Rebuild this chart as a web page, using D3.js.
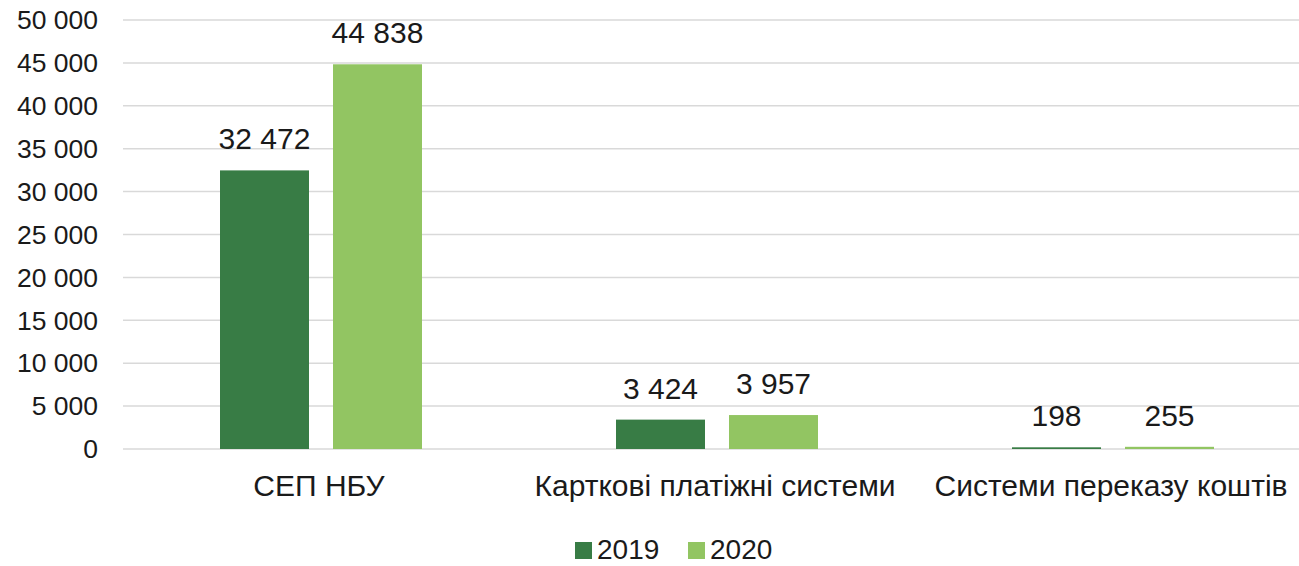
<!DOCTYPE html>
<html>
<head>
<meta charset="utf-8">
<script src="https://cdn.jsdelivr.net/npm/d3@7"></script>
<style>
  body { margin: 0; background: #fff; }
  text { font-family: "Liberation Sans", Arial, sans-serif; fill: #1a1a1a; }
</style>
</head>
<body>
<div id="chart"></div>
<script>
const categories = ["СЕП НБУ", "Карткові платіжні системи", "Системи переказу коштів"];
const years = ["2019", "2020"];
const values2019 = [32472, 3424, 198];
const values2020 = [44838, 3957, 255];
const yTicks = [0, 5000, 10000, 15000, 20000, 25000, 30000, 35000, 40000, 45000, 50000];

const width = 1299, height = 566;
const colors = { "2019": "#387c45", "2020": "#92c562" };
const fmt = v => d3.format(",")(v).replace(/,/g, " ");

const svg = d3.select("#chart")
    .append("svg")
    .attr("width", width)
    .attr("height", height);

const y = d3.scaleLinear()
    .domain([0, 50000])
    .range([449, 20]);

const x0 = d3.scaleBand()
    .domain(categories)
    .range([123, 1311]);

const x1 = d3.scaleBand()
    .domain(years)
    .range([-101, 101])
    .paddingInner(0.2124);

// gridlines
svg.append("g")
    .selectAll("line")
    .data(yTicks)
    .enter().append("line")
    .attr("x1", 123)
    .attr("x2", width)
    .attr("y1", d => y(d))
    .attr("y2", d => y(d))
    .attr("stroke", "#d9d9d9")
    .attr("stroke-width", 1.5);

// y axis labels
svg.append("g")
    .selectAll("text")
    .data(yTicks)
    .enter().append("text")
    .attr("x", 98)
    .attr("y", d => y(d))
    .attr("dy", "0.35em")
    .attr("text-anchor", "end")
    .style("font-size", "26.5px")
    .text(d => fmt(d));

const rows = [];
categories.forEach((c, i) => {
    rows.push({ cat: c, year: "2019", value: values2019[i] });
    rows.push({ cat: c, year: "2020", value: values2020[i] });
});

const cx = d => x0(d.cat) + x0.bandwidth() / 2;

svg.append("g")
    .selectAll("rect")
    .data(rows)
    .enter().append("rect")
    .attr("x", d => cx(d) + x1(d.year))
    .attr("width", x1.bandwidth())
    .attr("y", d => y(d.value))
    .attr("height", d => y(0) - y(d.value))
    .attr("fill", d => colors[d.year]);

// value labels
svg.append("g")
    .selectAll("text")
    .data(rows)
    .enter().append("text")
    .attr("x", d => cx(d) + x1(d.year) + x1.bandwidth() / 2)
    .attr("y", d => y(d.value) - 21)
    .attr("text-anchor", "middle")
    .style("font-size", "30px")
    .text(d => fmt(d.value));

// category labels
svg.append("g")
    .selectAll("text")
    .data(categories)
    .enter().append("text")
    .attr("x", d => x0(d) + x0.bandwidth() / 2 - 2)
    .attr("y", 496)
    .attr("text-anchor", "middle")
    .style("font-size", "30px")
    .text(d => d);

// legend
const legend = svg.append("g");
const legendX = [575, 688];
years.forEach((yr, i) => {
    legend.append("rect")
        .attr("x", legendX[i])
        .attr("y", 542)
        .attr("width", 17)
        .attr("height", 17)
        .attr("fill", colors[yr]);
    legend.append("text")
        .attr("x", legendX[i] + 22)
        .attr("y", 559)
        .style("font-size", "28px")
        .text(yr);
});
</script>
</body>
</html>
